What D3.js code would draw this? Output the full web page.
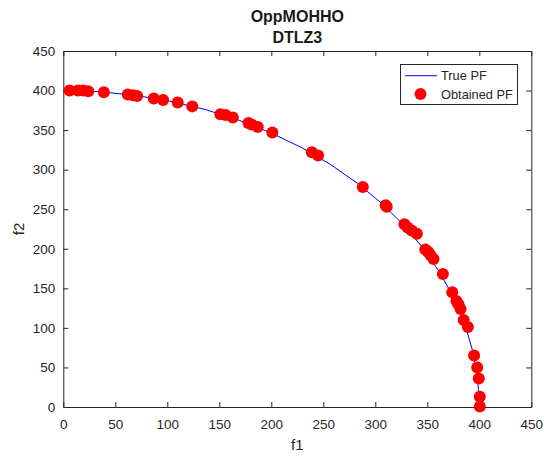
<!DOCTYPE html>
<html>
<head>
<meta charset="utf-8">
<script src="https://cdn.jsdelivr.net/npm/d3@7"></script>
<style>
  body { margin: 0; background: #fff; }
  svg { font-family: Arial, "Liberation Sans", Helvetica, sans-serif; }
</style>
</head>
<body>
<svg id="chart" width="544" height="456"></svg>
<script>
// title lines and axis labels
const titleLines = ["OppMOHHO", "DTLZ3"];
const xLabel = "f1";
const yLabel = "f2";
const legendLabels = ["True PF", "Obtained PF"];

// ticks
const xTicks = [0, 50, 100, 150, 200, 250, 300, 350, 400, 450];
const yTicks = [0, 50, 100, 150, 200, 250, 300, 350, 400, 450];

// true Pareto front (quarter circle, r = 400), every 5 degrees
const trueF1 = [0, 34.9, 69.5, 103.5, 136.8, 169.0, 200.0, 229.4, 257.1, 282.8,
                306.4, 327.7, 346.4, 362.5, 375.9, 386.4, 393.9, 398.5, 400];
const trueF2 = [400, 398.5, 393.9, 386.4, 375.9, 362.5, 346.4, 327.7, 306.4, 282.8,
                257.1, 229.4, 200.0, 169.0, 136.8, 103.5, 69.5, 34.9, 0];

// obtained front
const obtF1 = [6, 14, 19, 24, 39, 62, 67, 71, 87, 96, 110, 124, 151, 156, 163,
               178, 181, 187, 201, 239, 245, 288, 310, 311, 328, 331, 335, 340,
               348, 351, 353, 356, 365, 374, 378, 380, 382, 385, 389, 395, 398, 399.5,
               400.5, 400.5];
const obtF2 = [400, 400, 400, 399, 398, 395, 394, 393, 390, 388, 385, 380, 370, 369, 366,
               359, 357, 354, 347, 322, 318, 278, 255, 253, 231, 227, 223, 219,
               199, 196, 192, 187, 168, 145, 134, 130, 124, 110, 101, 65, 50, 36,
               13, 0.5];

const svg = d3.select("#chart");
const axisColor = "#262626";

const x = d3.scaleLinear().domain([0, 450]).range([63.3, 531.3]);
const y = d3.scaleLinear().domain([0, 450]).range([407, 51]);

// axes box with inward ticks on all sides
const gx = svg.append("g")
    .attr("transform", `translate(0,${y(0)})`)
    .call(d3.axisBottom(x).tickValues(xTicks).tickSizeInner(-5).tickSizeOuter(0).tickPadding(12));
const gy = svg.append("g")
    .attr("transform", `translate(${x(0)},0)`)
    .call(d3.axisLeft(y).tickValues(yTicks).tickSizeInner(-5).tickSizeOuter(0).tickPadding(8));
const gxTop = svg.append("g")
    .attr("transform", `translate(0,${y(450)})`)
    .call(d3.axisTop(x).tickValues(xTicks).tickSizeInner(-5).tickSizeOuter(0).tickFormat(""));
const gyRight = svg.append("g")
    .attr("transform", `translate(${x(450)},0)`)
    .call(d3.axisRight(y).tickValues(yTicks).tickSizeInner(-5).tickSizeOuter(0).tickFormat(""));

[gx, gy, gxTop, gyRight].forEach(g => {
    g.select(".domain").attr("stroke", axisColor);
    g.selectAll(".tick line").attr("stroke", axisColor);
    g.selectAll(".tick text")
        .attr("fill", axisColor)
        .style("font-size", "13.5px")
        .style("font-family", "Arial, 'Liberation Sans', sans-serif");
});

// true PF line
const trueData = trueF1.map((d, i) => ({ f1: d, f2: trueF2[i] }));
const lineGen = d3.line().x(d => x(d.f1)).y(d => y(d.f2));
svg.append("path")
    .datum(trueData)
    .attr("fill", "none")
    .attr("stroke", "#0000ff")
    .attr("stroke-width", 1)
    .attr("d", lineGen);

// obtained PF points
const obtData = obtF1.map((d, i) => ({ f1: d, f2: obtF2[i] }));
svg.append("g")
    .selectAll("circle")
    .data(obtData)
    .enter()
    .append("circle")
    .attr("cx", d => x(d.f1))
    .attr("cy", d => y(d.f2))
    .attr("r", 6)
    .attr("fill", "#ff0000");

// title
svg.append("g")
    .selectAll("text")
    .data(titleLines)
    .enter()
    .append("text")
    .attr("x", (x(0) + x(450)) / 2)
    .attr("y", (d, i) => 21.7 + i * 21.6)
    .attr("text-anchor", "middle")
    .attr("font-weight", "bold")
    .attr("font-size", "16px")
    .attr("fill", "#1a1a1a")
    .text(d => d);

// axis labels
svg.append("text")
    .attr("x", (x(0) + x(450)) / 2)
    .attr("y", 449.5)
    .attr("text-anchor", "middle")
    .attr("font-size", "15px")
    .attr("fill", axisColor)
    .text(xLabel);

svg.append("text")
    .attr("transform", `translate(24,${(y(0) + y(450)) / 2}) rotate(-90)`)
    .attr("text-anchor", "middle")
    .attr("font-size", "15px")
    .attr("fill", axisColor)
    .text(yLabel);

// legend
const legend = svg.append("g");
legend.append("rect")
    .attr("x", 400.5).attr("y", 64.5)
    .attr("width", 117).attr("height", 40)
    .attr("fill", "#fff")
    .attr("stroke", axisColor)
    .attr("stroke-width", 1);
legend.append("line")
    .attr("x1", 405).attr("x2", 437)
    .attr("y1", 75.7).attr("y2", 75.7)
    .attr("stroke", "#0000ff");
legend.append("circle")
    .attr("cx", 420.5).attr("cy", 94)
    .attr("r", 6)
    .attr("fill", "#ff0000");
legend.selectAll("text.lbl")
    .data(legendLabels)
    .enter()
    .append("text")
    .attr("class", "lbl")
    .attr("x", 441)
    .attr("y", (d, i) => 75.7 + i * 18.5)
    .attr("dy", "0.35em")
    .attr("font-size", "12.8px")
    .attr("fill", axisColor)
    .text(d => d);
</script>
</body>
</html>
